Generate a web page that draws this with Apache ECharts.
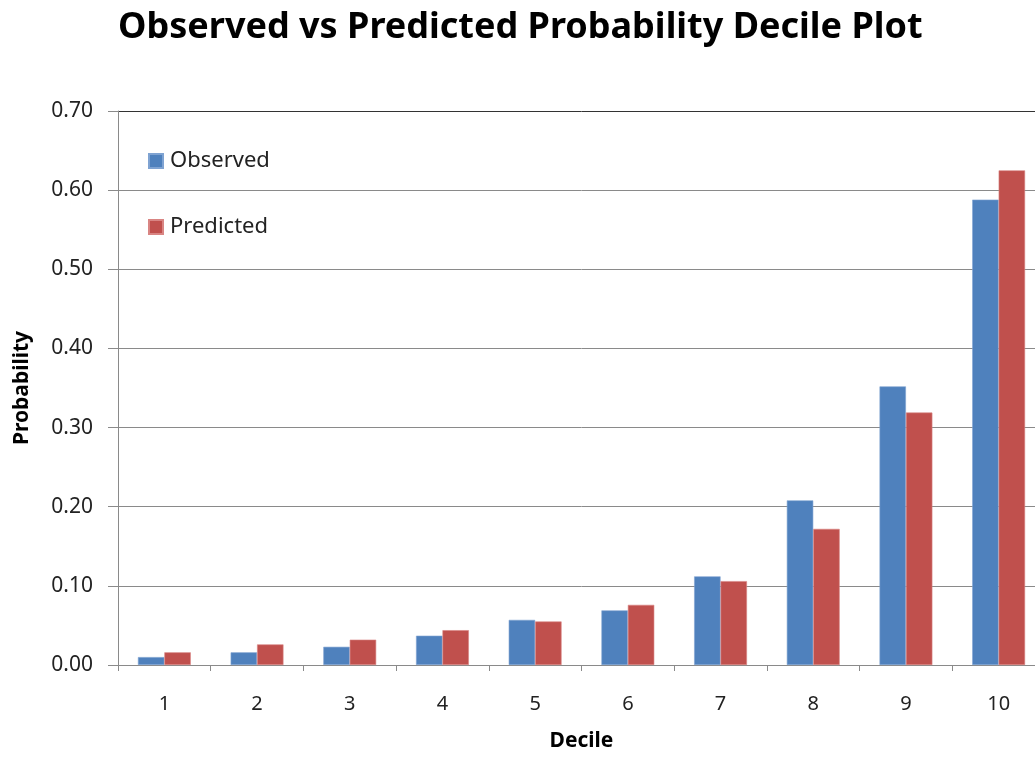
<!DOCTYPE html>
<html>
<head>
<meta charset="utf-8">
<script src="https://cdn.jsdelivr.net/npm/echarts@6/dist/echarts.min.js"></script>
<style>
  html, body { margin: 0; padding: 0; background: #ffffff; overflow: hidden; }
  #frame { width: 1035px; height: 757px; overflow: hidden; position: relative; }
  /* the chart is a little wider than its frame, so the last bars run to the edge */
  #chart { width: 1045px; height: 757px; position: absolute; left: 0; top: 0; }
</style>
</head>
<body>
<div id="frame"><div id="chart"></div></div>
<script>
// Decile categories and per-decile probabilities
const deciles = ['1', '2', '3', '4', '5', '6', '7', '8', '9', '10'];
const observed = [0.010, 0.016, 0.023, 0.037, 0.057, 0.069, 0.112, 0.208, 0.352, 0.588];
const predicted = [0.016, 0.026, 0.032, 0.044, 0.055, 0.076, 0.106, 0.172, 0.319, 0.625];
const yTicks = { min: 0, max: 0.7, interval: 0.1 };

const FONT = '"Noto Sans", "DejaVu Sans", sans-serif';

const chart = echarts.init(document.getElementById('chart'), null, { renderer: 'canvas' });

const gridLineColors = ['#8a8a8a', '#8a8a8a', '#8a8a8a', '#8a8a8a', '#8a8a8a', '#8a8a8a', '#8a8a8a', '#333333'];

chart.setOption({
  animation: false,
  backgroundColor: '#ffffff',
  title: {
    text: 'Observed vs Predicted Probability Decile Plot',
    left: 113,
    top: 5,
    textStyle: { fontFamily: FONT, fontWeight: 'bold', fontSize: 36, color: '#000000' }
  },
  legend: {
    orient: 'vertical',
    left: 143,
    top: 145,
    itemWidth: 14,
    itemHeight: 14,
    itemGap: 44,
    icon: 'rect',
    textStyle: { fontFamily: FONT, fontSize: 22, color: '#222222', padding: [0, 0, 0, 2] },
    data: ['Observed', 'Predicted']
  },
  grid: { left: 118, right: 0, top: 111, bottom: 86, containLabel: false },
  xAxis: {
    type: 'category',
    data: deciles,
    name: 'Decile',
    nameLocation: 'middle',
    nameGap: 66,
    nameTextStyle: { fontFamily: FONT, fontWeight: 'bold', fontSize: 21, color: '#000000' },
    axisLine: { lineStyle: { color: '#8a8a8a', width: 1 } },
    axisTick: { show: true, length: 6, lineStyle: { color: '#8a8a8a' } },
    axisLabel: { fontFamily: FONT, fontSize: 20, color: '#222222', margin: 29 }
  },
  yAxis: {
    type: 'value',
    min: yTicks.min,
    max: yTicks.max,
    interval: yTicks.interval,
    name: 'Probability',
    nameLocation: 'middle',
    nameGap: 85,
    nameRotate: 90,
    nameTextStyle: { fontFamily: FONT, fontWeight: 'bold', fontSize: 21, color: '#000000' },
    axisLine: { show: true, lineStyle: { color: '#8a8a8a', width: 1 } },
    axisTick: { show: true, length: 10, lineStyle: { color: '#8a8a8a' } },
    axisLabel: {
      fontFamily: FONT, fontSize: 21, color: '#222222', margin: 25,
      formatter: v => v.toFixed(2)
    },
    splitLine: {
      show: true,
      lineStyle: { color: gridLineColors, width: 1 }
    }
  },
  series: [
    {
      name: 'Observed',
      type: 'bar',
      data: observed,
      barGap: '0%',
      barCategoryGap: '43%',
      itemStyle: { color: '#4F81BD', borderColor: '#7fa3d2', borderWidth: 0.6 }
    },
    {
      name: 'Predicted',
      type: 'bar',
      data: predicted,
      barGap: '0%',
      barCategoryGap: '43%',
      itemStyle: { color: '#C0504D', borderColor: '#d98583', borderWidth: 0.6 }
    }
  ]
});
</script>
</body>
</html>
